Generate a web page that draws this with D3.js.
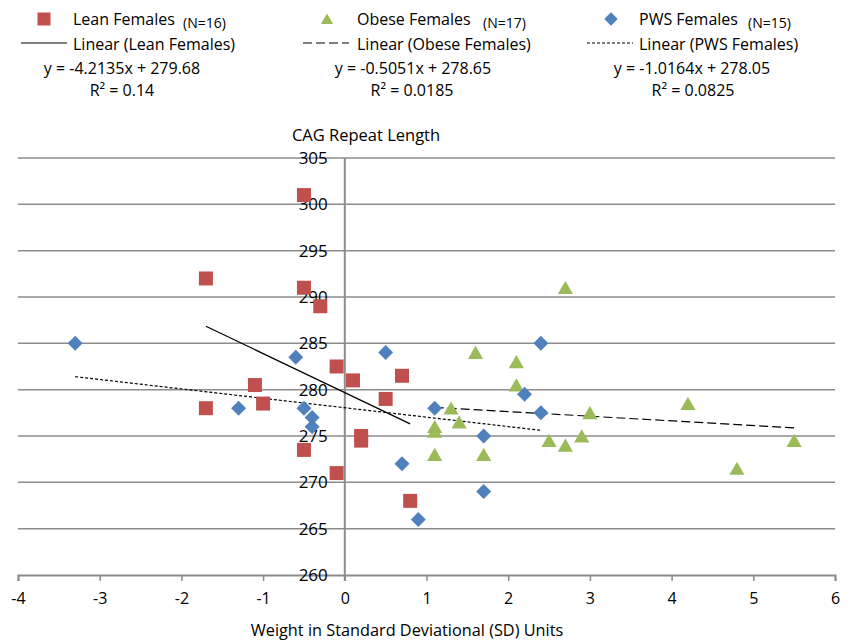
<!DOCTYPE html>
<html>
<head>
<meta charset="utf-8">
<script src="https://cdn.jsdelivr.net/npm/d3@7"></script>
<style>
  body { margin: 0; background: #fff; }
  svg text { font-family: "Open Sans", sans-serif; fill: #000; }
</style>
</head>
<body>
<div id="chart"></div>
<script>
const width = 851;
const height = 643;

// Lean Females (N=16)
const leanX = [-0.5, -1.7, -0.5, -0.3, -0.1, 0.1, 0.7, -1.1, -1.7, -1.0, 0.5, 0.2, 0.2, -0.5, -0.1, 0.8];
const leanY = [301, 292, 291, 289, 282.5, 281, 281.5, 280.5, 278, 278.5, 279, 275, 274.5, 273.5, 271, 268];

// Obese Females (N=17)
const obeseX = [2.7, 1.6, 2.1, 2.1, 1.3, 1.4, 1.1, 1.1, 1.1, 1.7, 3.0, 4.2, 2.5, 2.7, 2.9, 4.8, 5.5];
const obeseY = [291, 284, 283, 280.5, 278, 276.5, 276, 275.5, 273, 273, 277.5, 278.5, 274.5, 274, 275, 271.5, 274.5];

// PWS Females (N=15)
const pwsX = [-3.3, -0.6, 0.5, -1.3, -0.5, -0.4, -0.4, 0.7, 2.4, 2.2, 1.1, 2.4, 1.7, 1.7, 0.9];
const pwsY = [285, 283.5, 284, 278, 278, 277, 276, 272, 285, 279.5, 278, 277.5, 275, 269, 266];

// linear trend lines (slope, intercept) as printed on the chart
const slopes = [-4.2135, -0.5051, -1.0164];
const intercepts = [279.68, 278.65, 278.05];
const equations = ["y = -4.2135x + 279.68", "y = -0.5051x + 278.65", "y = -1.0164x + 278.05"];
const rSquared = ["R² = 0.14", "R² = 0.0185", "R² = 0.0825"];

const seriesNames = ["Lean Females", "Obese Females", "PWS Females"];
const seriesN = ["(N=16)", "(N=17)", "(N=15)"];
const colors = ["#C0504D", "#9BBB59", "#4F81BD"];
const dashes = [null, "9,4", "3,2"];

const xTicks = [-4, -3, -2, -1, 0, 1, 2, 3, 4, 5, 6];
const yTicks = [260, 265, 270, 275, 280, 285, 290, 295, 300, 305];

// diamond = square turned 45 degrees
const diamond = {
    draw(ctx, size) {
        const r = Math.sqrt(size / 2);
        ctx.moveTo(0, -r); ctx.lineTo(r, 0); ctx.lineTo(0, r); ctx.lineTo(-r, 0); ctx.closePath();
    }
};

const series = [
  { x: leanX, y: leanY, shape: d3.symbolSquare, size: 196, legendSize: 169, dy: 0 },
  { x: obeseX, y: obeseY, shape: d3.symbolTriangle, size: 100, legendSize: 64, dy: 2 },
  { x: pwsX, y: pwsY, shape: diamond, size: 112, legendSize: 90, dy: 0 }
];

const svg = d3.select("#chart").append("svg")
    .attr("width", width)
    .attr("height", height);

const x = d3.scaleLinear().domain([-4, 6]).range([18, 835]);
const y = d3.scaleLinear().domain([260, 305]).range([575, 158]);

// gridlines
svg.append("g").selectAll("line")
    .data(yTicks.filter(d => d !== 260))
    .join("line")
    .attr("x1", x(-4)).attr("x2", x(6))
    .attr("y1", d => y(d)).attr("y2", d => y(d))
    .style("stroke", "#8c8c8c")
    .style("stroke-width", 1.5);

// vertical axis at x = 0
svg.append("line")
    .attr("x1", x(0)).attr("x2", x(0))
    .attr("y1", y(305)).attr("y2", y(260) + 6)
    .style("stroke", "#8c8c8c")
    .style("stroke-width", 2);

// horizontal axis
const xAxis = svg.append("g")
    .attr("transform", `translate(0,${y(260)})`)
    .call(d3.axisBottom(x).tickValues(xTicks).tickSize(6).tickPadding(12).tickFormat(d3.format("d")));
xAxis.select(".domain").style("stroke", "#8c8c8c").style("stroke-width", 2);
xAxis.selectAll(".tick line").style("stroke", "#8c8c8c").style("stroke-width", 1.5);
xAxis.selectAll("text").style("font-size", "16px").attr("font-family", null)
    .text(d => d < 0 ? "-" + Math.abs(d) : d);

// y tick labels next to the vertical axis
svg.append("g").selectAll("text")
    .data(yTicks)
    .join("text")
    .attr("x", x(0) - 17)
    .attr("y", d => y(d))
    .attr("dy", "0.35em")
    .attr("text-anchor", "end")
    .style("font-size", "17px")
    .text(d => d);

// axis titles
svg.append("text")
    .attr("x", 366)
    .attr("y", 141)
    .attr("text-anchor", "middle")
    .style("font-size", "16.5px")
    .text("CAG Repeat Length");

svg.append("text")
    .attr("x", 407)
    .attr("y", 636)
    .attr("text-anchor", "middle")
    .style("font-size", "16.3px")
    .text("Weight in Standard Deviational (SD) Units");

// trend lines over the range of each series
series.forEach((s, i) => {
    const ext = d3.extent(s.x);
    svg.append("line")
        .attr("x1", x(ext[0])).attr("y1", y(slopes[i] * ext[0] + intercepts[i]))
        .attr("x2", x(ext[1])).attr("y2", y(slopes[i] * ext[1] + intercepts[i]))
        .style("stroke", "#000")
        .style("stroke-width", 1.2)
        .style("stroke-dasharray", dashes[i]);
});

// markers
series.forEach((s, i) => {
    svg.append("g").selectAll("path")
        .data(s.x.map((v, j) => [v, s.y[j]]))
        .join("path")
        .attr("transform", d => `translate(${x(d[0])},${y(d[1]) + s.dy})`)
        .attr("d", d3.symbol().type(s.shape).size(s.size))
        .style("fill", colors[i]);
});

// legend
const markerX = [44, 327, 611];
const labelX = [73, 357, 639];
const nX = [183, 483, 748];
const lineX = [21, 303, 587];
const eqX = [122, 413, 692];
const r2X = [122, 412, 693];

seriesNames.forEach((name, i) => {
    svg.append("path")
        .attr("transform", `translate(${markerX[i]},${19 + series[i].dy * 0.8})`)
        .attr("d", d3.symbol().type(series[i].shape).size(series[i].legendSize))
        .style("fill", colors[i]);
    svg.append("text").attr("x", labelX[i]).attr("y", 25).style("font-size", "16px").text(name);
    svg.append("text").attr("x", nX[i]).attr("y", 28).style("font-size", "14px").text(seriesN[i]);

    svg.append("line")
        .attr("x1", lineX[i]).attr("x2", lineX[i] + 46)
        .attr("y1", 43).attr("y2", 43)
        .style("stroke", "#000")
        .style("stroke-width", 1.2)
        .style("stroke-dasharray", dashes[i]);
    svg.append("text").attr("x", labelX[i]).attr("y", 50).style("font-size", "16px")
        .text("Linear (" + name + ")");

    svg.append("text").attr("x", eqX[i]).attr("y", 74).attr("text-anchor", "middle")
        .style("font-size", "16px").text(equations[i]);
    svg.append("text").attr("x", r2X[i]).attr("y", 96).attr("text-anchor", "middle")
        .style("font-size", "16px").text(rSquared[i]);
});
</script>
</body>
</html>
